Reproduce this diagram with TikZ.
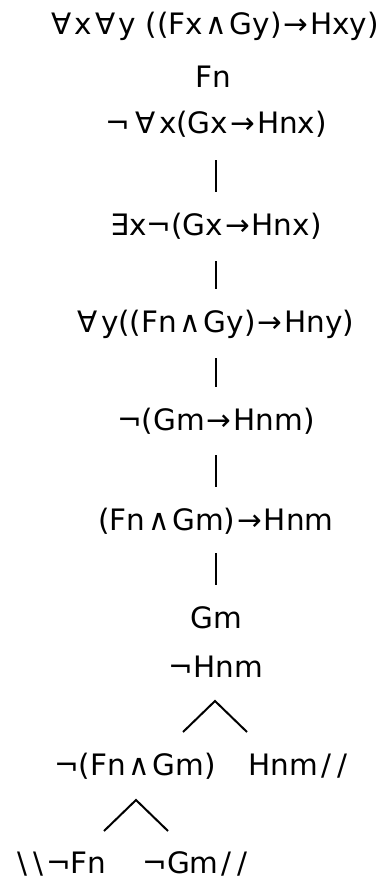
\documentclass[tikz,border=0pt]{standalone}
\usepackage{fontspec}
\setmainfont{DejaVu Sans}
\usetikzlibrary{positioning}
\newcommand\lAnd{\kern2.5pt∧\kern2.5pt}
\newcommand\lImp{\kern2pt→\kern2pt}
\newcommand\lAll{∀\kern3pt}
\newcommand\cls{\kern3pt/\kern6pt/}
\newcommand\opn{\textbackslash\kern6pt\textbackslash\kern3pt}
\tikzset{
  fml/.style = {anchor=base, inner sep=0pt, font=\fontsize{29.5}{32}\selectfont},
  bar/.style = {line width=2pt},
  brch/.style = {line width=2pt}
}

\begin{document}
\begin{tikzpicture}[x=1pt, y=-1pt]
  \useasboundingbox (0,0) rectangle (387,880);
  % trunk
  \node [fml] (f1) at (215,35)  {\lAll x\kern4pt\lAll y ((Fx\lAnd Gy)\lImp Hxy)};
  \node [fml] (f2) at (213,88)  {Fn};
  \node [fml] (f3) at (216,134) {¬\kern6pt\lAll x(Gx\lImp Hnx)};
  \node [fml] (f4) at (216,235) {∃x¬(Gx\lImp Hnx)};
  \node [fml] (f5) at (216,332) {\lAll y((Fn\lAnd Gy)\lImp Hny)};
  \node [fml] (f6) at (216,430) {¬(Gm\lImp Hnm)};
  \node [fml] (f7) at (216,530) {(Fn\lAnd Gm)\lImp Hnm};
  \node [fml] (f8) at (216,628) {Gm};
  \node [fml] (f9) at (216,677) {¬Hnm};
  % branches
  \node [fml] (f10) at (135,775) {¬(Fn\lAnd Gm)};
  \node [fml] (f11) at (298,775) {Hnm\cls};
  \node [fml] (f12) at (62,873)  {\opn¬Fn};
  \node [fml] (f13) at (195,873) {¬Gm\cls};
  \foreach \a/\b/\s in {f3/f4/26, f4/f5/26, f5/f6/26, f6/f7/25, f7/f8/23}{
    \draw [bar] ([yshift=-\s pt]\a.base -| 216,0) -- ([yshift=43pt]\b.base -| 216,0);
  }
  \coordinate (a1) at (215,701);
  \coordinate (l1) at (183,732);
  \coordinate (r1) at (247,732);
  \draw [brch] (l1) -- (a1) -- (r1);
  \coordinate (a2) at (136,800);
  \coordinate (l2) at (104,831);
  \coordinate (r2) at (168,831);
  \draw [brch] (l2) -- (a2) -- (r2);
\end{tikzpicture}
\end{document}
